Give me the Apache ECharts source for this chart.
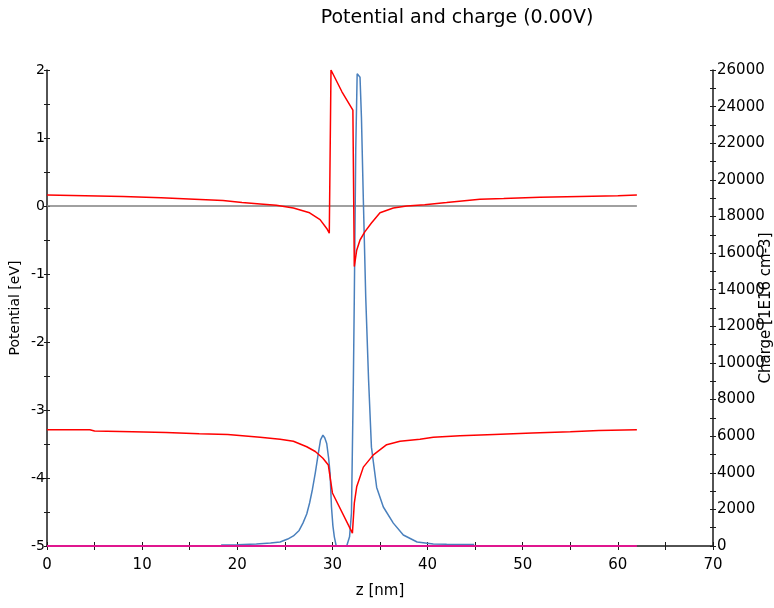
<!DOCTYPE html>
<html>
    <head>
        <meta charset="utf-8">
        <title>Potential and charge</title>
        <script src="https://cdn.jsdelivr.net/npm/echarts@6/dist/echarts.min.js"></script>
    </head>
    <body style="margin:0">
        <div id="main" style="width:774px; height:608px;"></div>
        <script type="text/javascript">
            // conduction band edge [eV]
            var zCond = [0, 4, 8, 12, 15.5, 18.5, 20.5, 22.4, 24.1, 25.9, 27.6, 28.7, 29.4, 29.67,
                29.85, 31.0, 32.15, 32.3, 32.55, 32.9, 33.4, 34.1, 35.0, 36.4, 37.8, 39.7, 42, 45.5, 48, 51.8, 56, 60, 62]
            var potCond = [0.16, 0.15, 0.14, 0.12, 0.10, 0.08, 0.05, 0.03, 0.01, -0.03, -0.10, -0.20, -0.33, -0.40,
                2.0, 1.68, 1.41, -0.89, -0.65, -0.50, -0.38, -0.25, -0.10, -0.03, 0.0, 0.02, 0.05, 0.10, 0.11, 0.13, 0.14, 0.15, 0.16]
            // valence band edge [eV]
            var zVal = [0, 4.5, 5, 9, 12.5, 16, 19, 22.4, 24.5, 25.9, 27.3, 28.2, 29.0, 29.57,
                30.0, 32.1, 32.3, 32.55, 33.25, 34.3, 35.7, 37.1, 39.2, 40.6, 43.4, 47, 51, 55, 58, 62]
            var potVal = [-3.29, -3.29, -3.31, -3.32, -3.33, -3.35, -3.36, -3.40, -3.43, -3.46, -3.54, -3.61, -3.71, -3.81,
                -4.22, -4.81, -4.37, -4.13, -3.84, -3.66, -3.51, -3.46, -3.43, -3.40, -3.38, -3.36, -3.34, -3.32, -3.30, -3.29]
            // charge density [1E16 cm-3]
            var zCharge = [18.3, 20, 22, 23.5, 24.5, 25.3, 25.9, 26.5, 26.9, 27.3, 27.6, 27.9, 28.2, 28.5, 28.75, 29.0,
                29.2, 29.4, 29.6, 29.75, 29.9, 30.05, 30.2, 30.4, 31.5, 31.8, 32.0, 32.2, 32.3, 32.45, 32.6, 32.9,
                33.05, 33.25, 33.5, 33.8, 34.1, 34.65, 35.35, 36.4, 37.45, 38.9, 40.6, 42, 44.9]
            var charge = [60, 70, 110, 160, 220, 380, 550, 850, 1250, 1750, 2350, 3100, 4000, 5000, 5800, 6060,
                5900, 5600, 4800, 4000, 2130, 1100, 500, 0, 0, 500, 1800, 9000, 13600, 21600, 25800, 25600,
                23400, 18900, 13600, 9070, 5400, 3200, 2130, 1250, 600, 220, 110, 90, 80]
            // flat reference lines
            var zFlat = [0, 62]
            var fermi = [0, 0]
            var charge2 = [0, 0]

            var pairs = function(xs, ys) {
                var out = []
                for (var i = 0; i < xs.length; i++) {
                    out.push([xs[i], ys[i]])
                }
                return out
            }

            var font = 'DejaVu Sans'
            var black = '#1a1a1a'
            // ticks crossing the axis: one axis draws them outside, a twin draws them inside
            var ticks = function(inside, len) {
                return {
                    axisTick: {show: true, inside: inside, length: len, lineStyle: {color: black}},
                    minorTick: {show: true, splitNumber: 2, length: len, lineStyle: {color: black}},
                }
            }
            var xRange = {type: 'value', min: 0, max: 70, interval: 10, position: 'bottom'}
            var yLeft = {type: 'value', min: -5, max: 2, interval: 1, position: 'left'}
            var yRight = {type: 'value', min: 0, max: 26000, interval: 2000, position: 'right'}
            var plain = function(v) { return String(v) }

            var myChart = echarts.init(document.querySelector('#main'))
            var option = {
                animation: false,
                title: {
                    text: 'Potential and charge (0.00V)',
                    left: 452,
                    top: 4,
                    textAlign: 'center',
                    textStyle: {fontFamily: font, fontSize: 19, fontWeight: 'normal', color: '#000'}
                },
                grid: {left: 47, right: 61, top: 70, bottom: 62, containLabel: false, outerBoundsMode: 'none'},
                xAxis: [
                    Object.assign({
                        name: 'z [nm]', nameLocation: 'middle', nameGap: 38, nameMoveOverlap: false,
                        nameTextStyle: {fontFamily: font, fontSize: 15, color: '#000'},
                        axisLine: {show: true, onZero: false, lineStyle: {color: black, width: 1.5}},
                        axisLabel: {fontFamily: font, fontSize: 15, color: '#000', margin: 12},
                        splitLine: {show: false}
                    }, xRange, ticks(false, 4)),
                    Object.assign({
                        axisLine: {show: false, onZero: false},
                        axisLabel: {show: false},
                        splitLine: {show: false}
                    }, xRange, ticks(true, 4))
                ],
                yAxis: [
                    Object.assign({
                        name: 'Potential [eV]', nameLocation: 'middle', nameGap: 25, nameMoveOverlap: false,
                        nameTextStyle: {fontFamily: font, fontSize: 14, color: '#000'},
                        axisLine: {show: true, onZero: false, lineStyle: {color: black, width: 1.5}},
                        axisLabel: {fontFamily: font, fontSize: 14, color: '#000', margin: 2},
                        splitLine: {show: false}
                    }, yLeft, ticks(false, 3)),
                    Object.assign({
                        axisLine: {show: false, onZero: false}, axisLabel: {show: false}, splitLine: {show: false}
                    }, yLeft, ticks(true, 3)),
                    Object.assign({
                        name: 'Charge [1E16 cm-3]', nameLocation: 'middle', nameGap: 46, nameMoveOverlap: false,
                        nameTextStyle: {fontFamily: font, fontSize: 15, color: '#000'},
                        axisLine: {show: true, onZero: false, lineStyle: {color: black, width: 1.5}},
                        axisLabel: {fontFamily: font, fontSize: 15, color: '#000', margin: 4, formatter: plain},
                        splitLine: {show: false}
                    }, yRight, ticks(false, 3)),
                    Object.assign({
                        axisLine: {show: false, onZero: false}, axisLabel: {show: false}, splitLine: {show: false}
                    }, yRight, ticks(true, 3))
                ],
                series: [
                    {
                        name: 'Fermi', type: 'line', yAxisIndex: 0, symbol: 'none',
                        lineStyle: {color: '#808080', width: 1.5}, data: pairs(zFlat, fermi)
                    },
                    {
                        name: 'Charge', type: 'line', yAxisIndex: 2, symbol: 'none',
                        lineStyle: {color: '#4a80bd', width: 1.5}, data: pairs(zCharge, charge)
                    },
                    {
                        name: 'Ec', type: 'line', yAxisIndex: 0, symbol: 'none',
                        lineStyle: {color: '#ff0000', width: 1.5}, data: pairs(zCond, potCond)
                    },
                    {
                        name: 'Ev', type: 'line', yAxisIndex: 0, symbol: 'none',
                        lineStyle: {color: '#ff0000', width: 1.5}, data: pairs(zVal, potVal)
                    },
                    {
                        name: 'Charge2', type: 'line', yAxisIndex: 2, symbol: 'none',
                        lineStyle: {color: '#e0168f', width: 2}, data: pairs(zFlat, charge2)
                    }
                ]
            }
            myChart.setOption(option)
        </script>
    </body>
</html>
